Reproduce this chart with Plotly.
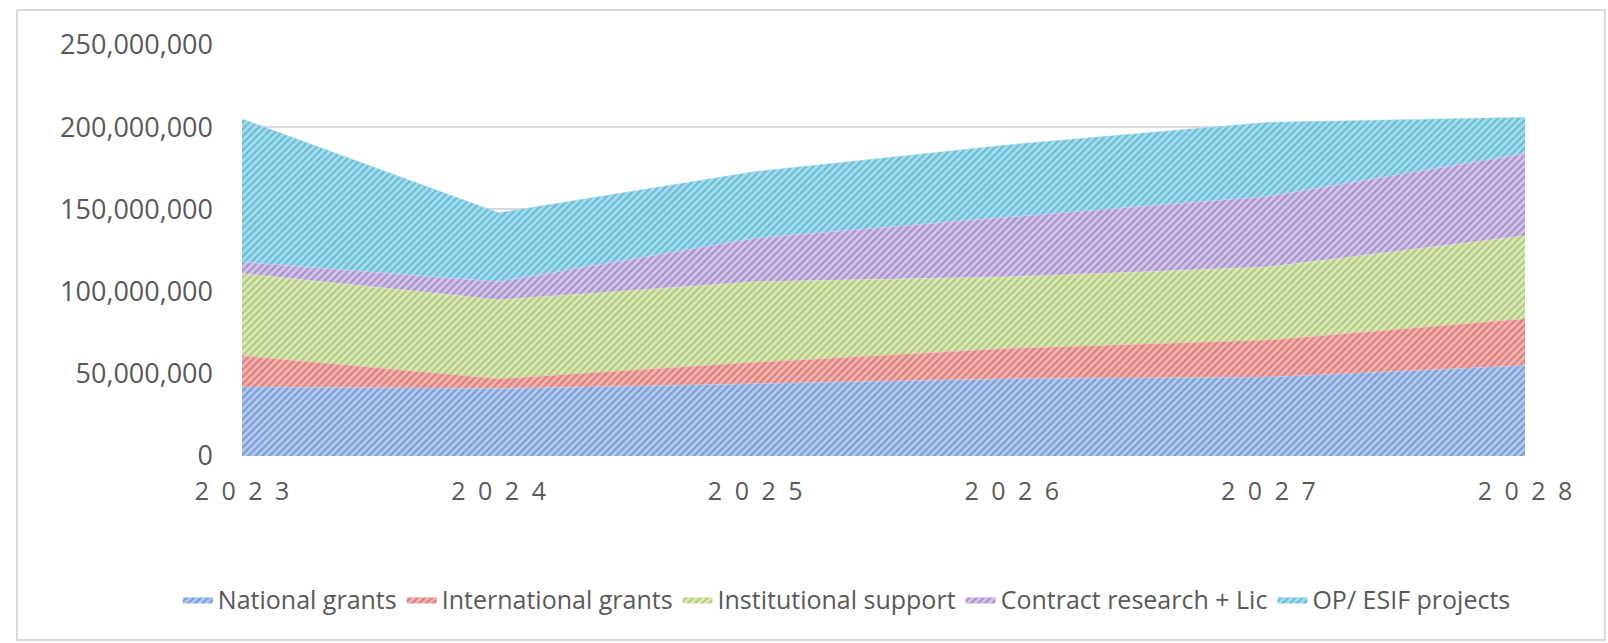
import plotly.graph_objects as go

years = [2023, 2024, 2025, 2026, 2027, 2028]
year_labels = ["2\u20020\u20022\u20023", "2\u20020\u20022\u20024", "2\u20020\u20022\u20025",
               "2\u20020\u20022\u20026", "2\u20020\u20022\u20027", "2\u20020\u20022\u20028"]

national_grants = [42_000_000, 41_000_000, 44_000_000, 47_000_000, 48_000_000, 55_000_000]
international_grants = [19_000_000, 6_000_000, 13_000_000, 18_500_000, 22_500_000, 28_500_000]
institutional_support = [50_000_000, 48_000_000, 49_000_000, 43_500_000, 44_500_000, 50_500_000]
contract_research = [7_000_000, 11_000_000, 26_500_000, 36_500_000, 43_000_000, 50_000_000]
op_esif_projects = [87_000_000, 42_000_000, 40_500_000, 44_000_000, 45_000_000, 22_000_000]

y_ticks = [0, 50_000_000, 100_000_000, 150_000_000, 200_000_000, 250_000_000]

series = [
    ("National grants", national_grants, "#3f68b0", "#b0c9ee"),
    ("International grants", international_grants, "#b84a47", "#f3b1af"),
    ("Institutional support", institutional_support, "#86a548", "#d9e8b4"),
    ("Contract research + Lic", contract_research, "#765aa0", "#d2c3ea"),
    ("OP/ ESIF projects", op_esif_projects, "#2a97b8", "#a3dbec"),
]

fig = go.Figure()
for name, vals, fg, bg in series:
    fig.add_trace(go.Scatter(
        x=years, y=vals, name=name, mode="lines", stackgroup="one",
        line=dict(width=0.5, color=bg),
        fillcolor=bg,
        fillpattern=dict(shape="/", fgcolor=fg, bgcolor=bg, size=5, solidity=0.4),
        hoverinfo="x+y+name",
    ))

fig.update_layout(
    width=1608, height=643,
    margin=dict(l=242, r=83, t=45, b=187),
    paper_bgcolor="white", plot_bgcolor="white",
    font=dict(family="Open Sans, DejaVu Sans, sans-serif", size=24, color="#595959"),
    showlegend=True,
    legend=dict(orientation="h", x=-0.05, xanchor="left", y=-0.35, yanchor="middle",
                font=dict(size=25, color="#595959"), traceorder="normal",
                itemwidth=30, tracegroupgap=0),
    shapes=[dict(type="rect", xref="paper", yref="paper",
                 x0=-0.1754, x1=1.0623, y0=-0.4477, y1=1.0852,
                 line=dict(color="#d9d9d9", width=2), fillcolor="rgba(0,0,0,0)", layer="below")],
)
fig.update_xaxes(range=[2023, 2028], tickmode="array", tickvals=years, ticktext=year_labels,
                 showgrid=False, zeroline=False, showline=False,
                 ticklabelstandoff=18, tickfont=dict(size=25, color="#595959"))
fig.update_yaxes(range=[0, 250_000_000], tickmode="array", tickvals=y_ticks,
                 tickformat=",d", showgrid=True, gridcolor="#d9d9d9", gridwidth=2,
                 zeroline=False, showline=False, ticklabelstandoff=28,
                 tickfont=dict(size=27, color="#595959"))

fig.write_html("out.html")
